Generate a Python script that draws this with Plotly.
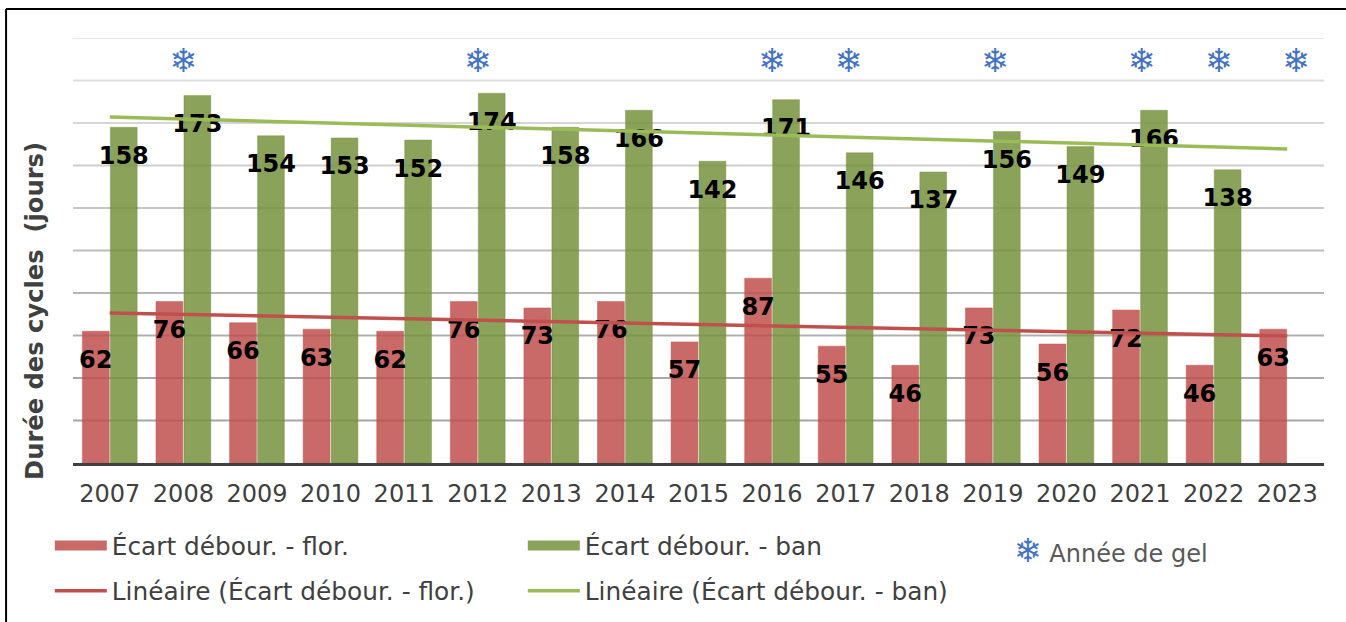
import plotly.graph_objects as go

years = list(range(2007, 2024))
flor = [62, 76, 66, 63, 62, 76, 73, 76, 57, 87, 55, 46, 73, 56, 72, 46, 63]
ban = [158, 173, 154, 153, 152, 174, 158, 166, 142, 171, 146, 137, 156, 149, 166, 138, None]
trend_x = [2007, 2023]
trend_flor = [70.6, 59.8]
trend_ban = [162.8, 147.8]
frost_years = [2008, 2012, 2016, 2017, 2019, 2021, 2022, 2023]
frost_level = [188.0] * len(frost_years)
frost_nudge = [0, 0, 0, 0.04, 0.03, 0.02, 0.07, 0.12]
grid_vals = [20, 40, 60, 80, 100, 120, 140, 160, 180, 200]
grid_cols = ["#a6a6a6", "#a9a9a9", "#afafaf", "#b6b6b6", "#bdbdbd", "#c6c6c6", "#cecece", "#d6d6d6", "#dedede", "#e6e6e6"]

FONT = "DejaVu Sans"
RED = "rgba(192,80,77,0.85)"
GREEN = "rgba(118,146,60,0.85)"
BARGAP = 0.24
OFF = (1 - BARGAP) / 4

fig = go.Figure()
fig.add_bar(x=years, y=flor, name="Écart débour. - flor.", showlegend=False,
            marker=dict(color=RED, line=dict(color="rgba(192,80,77,0.45)", width=1)), hoverinfo="skip")
fig.add_bar(x=years, y=ban, name="Écart débour. - ban", showlegend=False,
            marker=dict(color=GREEN, line=dict(color="rgba(118,146,60,0.40)", width=1)), hoverinfo="skip")

for vals, off in ((flor, -OFF), (ban, OFF)):
    xs = [y + off for y, v in zip(years, vals) if v is not None]
    ys = [v for v in vals if v is not None]
    fig.add_scatter(x=xs, y=ys, text=[str(v) for v in ys], mode="markers+text", textposition="bottom center",
                    marker=dict(size=28, color="rgba(0,0,0,0)"), showlegend=False, hoverinfo="skip",
                    textfont=dict(family=FONT, size=24, color="#000000", weight="bold"))

fig.add_scatter(x=trend_x, y=trend_flor, mode="lines", name="Linéaire (Écart débour. - flor.)", legend="legend2",
                line=dict(color="#c0504d", width=3.5), hoverinfo="skip")
fig.add_scatter(x=trend_x, y=trend_ban, mode="lines", name="Linéaire (Écart débour. - ban)", legend="legend2",
                line=dict(color="#9bbb59", width=3.5), hoverinfo="skip")

# legend keys of the bars: wide swatches
fig.add_scatter(x=[None], y=[None], mode="lines", name="Écart débour. - flor.", legend="legend",
                line=dict(color="rgb(201,106,103)", width=13), hoverinfo="skip")
fig.add_scatter(x=[None], y=[None], mode="lines", name="Écart débour. - ban", legend="legend",
                line=dict(color="rgb(138,162,89)", width=13), hoverinfo="skip")

fig.add_scatter(x=[y + n for y, n in zip(frost_years, frost_nudge)], y=frost_level, mode="text",
                text=["❄"] * len(frost_years), textposition="middle center", showlegend=False, hoverinfo="skip",
                textfont=dict(family=FONT, size=33, color="#4472c4", weight="bold"))

shapes = [dict(type="line", xref="paper", yref="y", x0=0, x1=1, y0=v, y1=v, layer="below",
               line=dict(color=c, width=2)) for v, c in zip(grid_vals, grid_cols)]
# outer frame: top and left edges only
shapes.append(dict(type="line", xref="paper", yref="paper", x0=-0.0535, x1=1.02, y0=1.068, y1=1.068, line=dict(color="#000", width=2)))
shapes.append(dict(type="line", xref="paper", yref="paper", x0=-0.0535, x1=-0.0535, y0=1.068, y1=-0.40, line=dict(color="#000", width=2)))

legend_common = dict(orientation="h", xref="container", yref="container", xanchor="left", yanchor="top",
                     entrywidth=406, entrywidthmode="pixels", itemwidth=52, font=dict(size=24.8, color="#404040"),
                     bgcolor="rgba(0,0,0,0)", traceorder="normal")

fig.update_layout(
    width=1346, height=622, autosize=False,
    paper_bgcolor="#ffffff", plot_bgcolor="#ffffff",
    margin=dict(l=73, r=22, t=38, b=159, autoexpand=False),
    barmode="group", bargap=BARGAP, bargroupgap=0.04,
    font=dict(family=FONT, color="#404040"),
    shapes=shapes,
    xaxis=dict(range=[2006.5, 2023.5], tickmode="array", tickvals=years, ticktext=[str(y) for y in years],
               tickfont=dict(size=24, color="#404040"), showgrid=False, zeroline=False, showline=True,
               linecolor="#404040", linewidth=3, ticks="outside", ticklen=7, tickcolor="rgba(0,0,0,0)", tickangle=0),
    yaxis=dict(range=[0, 200], showgrid=False, zeroline=False, showticklabels=False, ticks=""),
    legend=dict(x=0.037, y=0.1592, **legend_common),
    legend2=dict(x=0.037, y=0.0868, **legend_common),
    annotations=[
        dict(xref="paper", yref="paper", x=0.7505, y=-0.2067, xanchor="left", yanchor="middle", showarrow=False,
             text="<span style='color:#4472c4;font-size:33px;font-weight:bold'>❄</span> <span>Année de gel</span>",
             font=dict(size=24, color="#595959", family=FONT)),
        dict(xref="paper", yref="paper", x=-0.0305, y=0.3575, xanchor="center", yanchor="middle", showarrow=False, textangle=-90,
             text="<b>Durée des cycles  (jours)</b>", font=dict(size=24.2, color="#404040", family=FONT)),
    ],
)
fig.write_html("out.html", config=dict(displayModeBar=False),
               post_script="document.body.style.margin='0';document.body.style.overflow='hidden';")
